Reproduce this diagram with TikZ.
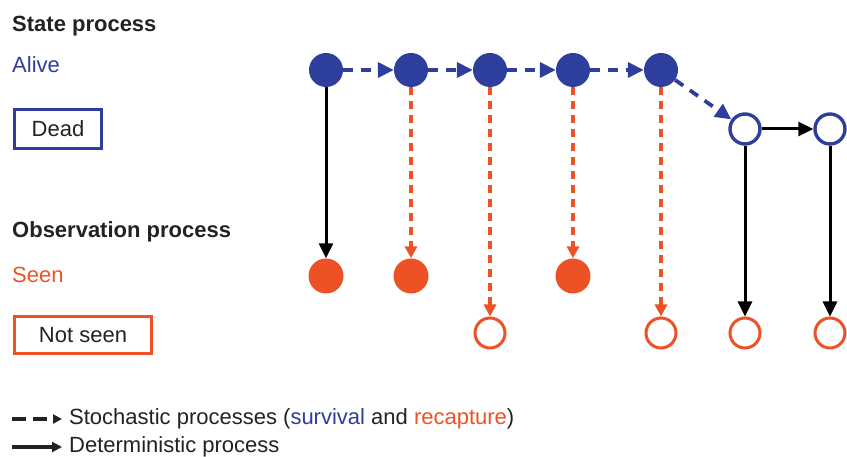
\documentclass[tikz,border=0pt]{standalone}
\usepackage{fontspec}
\setmainfont{Liberation Sans}
\usetikzlibrary{arrows.meta, positioning}
\usepackage{xcolor}
\definecolor{aliveblue}{RGB}{46,62,156}
\definecolor{seenorange}{RGB}{236,82,38}
\definecolor{labelgray}{RGB}{34,34,34}

\begin{document}
\begin{tikzpicture}[
    x=1pt, y=-1pt,
    txt/.style={font=\fontsize{22}{26}\selectfont, text=labelgray, inner sep=0pt, anchor=base west},
    head/.style={txt, font=\fontsize{22}{26}\selectfont\bfseries},
    statebox/.style={draw=aliveblue, line width=2.8pt, minimum width=87pt, minimum height=39pt, inner sep=0pt, font=\fontsize{22}{26}\selectfont, text=labelgray},
    obsbox/.style={draw=seenorange, line width=2.8pt, minimum width=137pt, minimum height=37pt, inner sep=0pt, font=\fontsize{22}{26}\selectfont, text=labelgray},
    alive/.style={circle, fill=aliveblue, minimum size=34pt, inner sep=0pt},
    dead/.style={circle, draw=aliveblue, line width=3.4pt, fill=white, minimum size=30pt, inner sep=0pt},
    seen/.style={circle, fill=seenorange, minimum size=35pt, inner sep=0pt},
    notseen/.style={circle, draw=seenorange, line width=3pt, fill=white, minimum size=30pt, inner sep=0pt},
    survival/.style={-{Triangle[length=16pt, width=15pt]}, aliveblue, line width=3.8pt, dash pattern=on 10pt off 8pt},
    recapture/.style={-{Triangle[length=12pt, width=12pt]}, seenorange, line width=3.4pt, dash pattern=on 8pt off 6pt},
    determ/.style={-{Triangle[length=15pt, width=14pt]}, black, line width=3pt},
    legdash/.style={-{Triangle[length=9pt, width=9pt]}, labelgray, line width=4pt, dash pattern=on 14pt off 7pt},
    legsolid/.style={-{Triangle[length=10pt, width=10pt]}, labelgray, line width=3.2pt}
]
\useasboundingbox (0,0) rectangle (847,457);

% left column
\node[head] (statehead) at (12,32) {State process};
\node[txt, text=aliveblue] (alivetxt) at (12,73) {Alive};
\node[statebox] (deadbox) at (58,129) {Dead};
\node[head] (obshead) at (12,238) {Observation process};
\node[txt, text=seenorange] (seentxt) at (12,283) {Seen};
\node[obsbox] (notseenbox) at (83,335) {Not seen};

% state process
\node[alive] (a1) at (326,70) {};
\node[alive] (a2) at (411,70) {};
\node[alive] (a3) at (490,70) {};
\node[alive] (a4) at (573,70) {};
\node[alive] (a5) at (661,70) {};
\node[dead] (d6) at (745,129) {};
\node[dead] (d7) at (830,129) {};

% observation process
\node[seen] (s1) at (326,276) {};
\node[seen] (s2) at (411,276) {};
\node[notseen] (n3) at (490,333) {};
\node[seen] (s4) at (573,276) {};
\node[notseen] (n5) at (661,333) {};
\node[notseen] (n6) at (745,333) {};
\node[notseen] (n7) at (830,333) {};

\draw[survival] (a1) -- (a2);
\draw[survival] (a2) -- (a3);
\draw[survival] (a3) -- (a4);
\draw[survival] (a4) -- (a5);
\draw[survival] (a5) -- (d6);
\draw[determ] (d6) -- (d7);

\draw[determ] (a1) -- (s1);
\draw[recapture] (a2) -- (s2);
\draw[recapture] (a3) -- (n3);
\draw[recapture] (a4) -- (s4);
\draw[recapture] (a5) -- (n5);
\draw[determ] (d6) -- (n6);
\draw[determ] (d7) -- (n7);

% legend
\coordinate (stochstart) at (12,419);
\coordinate (detstart) at (12,447);
\node[txt, anchor=west] (stochtxt) at (69,419) {Stochastic processes ({\color{aliveblue}survival} and {\color{seenorange}recapture})};
\node[txt, anchor=west] (dettxt) at (69,447) {Deterministic process};
\draw[legdash] (stochstart) -- ([xshift=-7pt]stochtxt.west);
\draw[legsolid] (detstart) -- ([xshift=-7pt]dettxt.west);
\end{tikzpicture}
\end{document}
